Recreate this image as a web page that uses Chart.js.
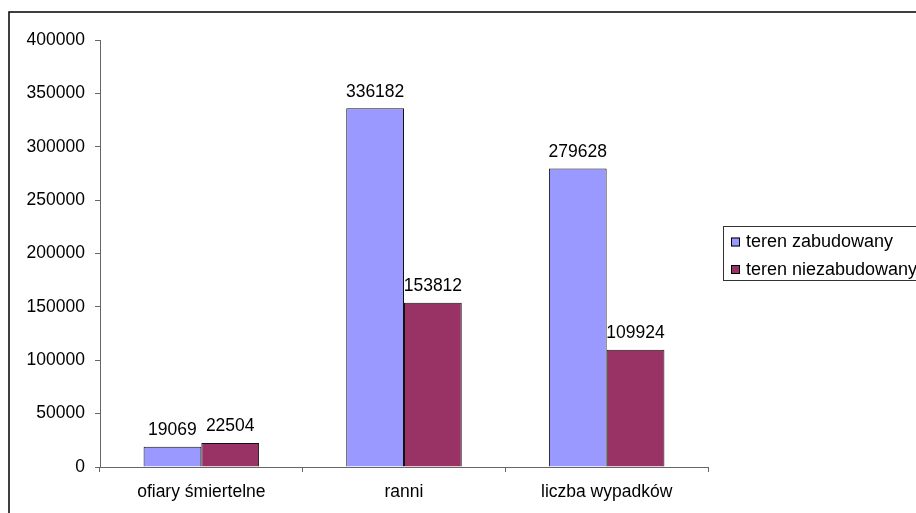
<!DOCTYPE html>
<html>
<head>
<meta charset="utf-8">
<script src="https://cdn.jsdelivr.net/npm/chart.js@4/dist/chart.umd.min.js"></script>
<style>
  html, body { margin: 0; padding: 0; background: #fff; overflow: hidden; }
  canvas { display: block; }
</style>
</head>
<body>
<canvas id="c" width="916" height="513"></canvas>
<script>
const categories = ['ofiary śmiertelne', 'ranni', 'liczba wypadków'];
const seriesNames = ['teren zabudowany', 'teren niezabudowany'];
const builtUp = [19069, 336182, 279628];
const nonBuiltUp = [22504, 153812, 109924];
const seriesColors = ['#9999FF', '#993366'];

const FONT = { family: '"Liberation Sans", Arial, sans-serif', size: 17.5 };

// Outer frame around the whole chart
const framePlugin = {
  id: 'frame',
  beforeDraw(chart) {
    const ctx = chart.ctx;
    ctx.save();
    ctx.fillStyle = '#fff';
    ctx.fillRect(0, 0, chart.width, chart.height);
    ctx.strokeStyle = '#000';
    ctx.lineWidth = 1.5;
    ctx.strokeRect(9, 12, chart.width + 20, chart.height + 20);
    ctx.restore();
  }
};

// Value written above each bar
const valueLabels = {
  id: 'valueLabels',
  afterDatasetsDraw(chart) {
    const ctx = chart.ctx;
    ctx.save();
    ctx.font = `${FONT.size}px ${FONT.family}`;
    ctx.fillStyle = '#000';
    ctx.textAlign = 'center';
    ctx.textBaseline = 'alphabetic';
    chart.data.datasets.forEach((ds, i) => {
      chart.getDatasetMeta(i).data.forEach((bar, j) => {
        ctx.fillText(String(ds.data[j]), bar.x, bar.y - 11.5);
      });
    });
    ctx.restore();
  }
};

// Boxed legend on the right
const boxedLegend = {
  id: 'boxedLegend',
  afterDraw(chart) {
    const ctx = chart.ctx;
    const x0 = 723, y0 = 226, h = 54;
    ctx.save();
    ctx.strokeStyle = '#333';
    ctx.lineWidth = 1;
    ctx.strokeRect(x0 + 0.5, y0 + 0.5, 300, h);
    ctx.font = `${FONT.size + 0.5}px ${FONT.family}`;
    ctx.textBaseline = 'middle';
    ctx.textAlign = 'left';
    chart.data.datasets.forEach((ds, i) => {
      const cy = y0 + 15.5 + i * 27.5;
      ctx.fillStyle = ds.backgroundColor;
      ctx.fillRect(731, cy - 4, 9, 9);
      ctx.strokeStyle = '#000';
      ctx.strokeRect(731.5, cy - 3.5, 8, 8);
      ctx.fillStyle = '#000';
      ctx.fillText(ds.label, 746, cy + 1);
    });
    ctx.restore();
  }
};

new Chart(document.getElementById('c'), {
  type: 'bar',
  data: {
    labels: categories,
    datasets: [
      { label: seriesNames[0], data: builtUp, backgroundColor: seriesColors[0], borderColor: '#111', borderWidth: 1 },
      { label: seriesNames[1], data: nonBuiltUp, backgroundColor: seriesColors[1], borderColor: '#111', borderWidth: 1 }
    ]
  },
  options: {
    responsive: false,
    animation: false,
    devicePixelRatio: 1,
    categoryPercentage: 0.57,
    barPercentage: 1.0,
    layout: { padding: { left: 0, right: 208, top: 40, bottom: 0 } },
    plugins: { legend: { display: false }, tooltip: { enabled: false } },
    scales: {
      x: {
        afterFit(scale) { scale.height = 46; },
        border: { color: '#666', width: 1 },
        grid: { offset: true, drawOnChartArea: false, tickLength: 5, color: '#666' },
        ticks: { color: '#000', font: FONT, padding: 10, maxRotation: 0 }
      },
      y: {
        min: 0,
        max: 400000,
        afterFit(scale) { scale.width = 100; },
        border: { color: '#666', width: 1 },
        grid: { drawOnChartArea: false, tickLength: 5, color: '#666' },
        ticks: { stepSize: 50000, color: '#000', font: FONT, padding: 10, callback: v => String(v) }
      }
    }
  },
  plugins: [framePlugin, valueLabels, boxedLegend]
});
</script>
</body>
</html>
